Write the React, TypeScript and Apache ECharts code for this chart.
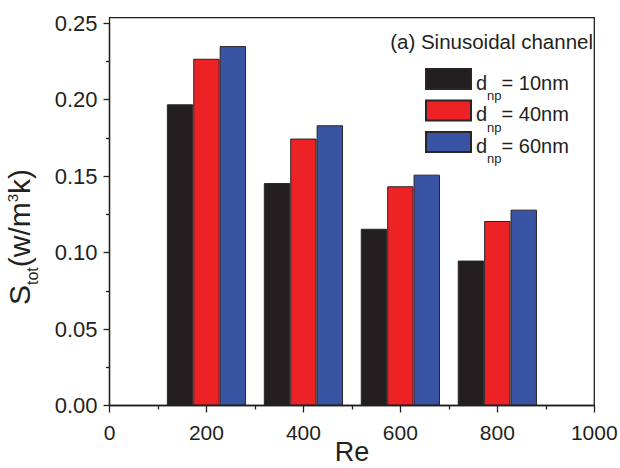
import React, { useEffect, useRef } from "react";
import * as echarts from "echarts";

const reValues = [200, 400, 600, 800];
const seriesNames = ["dnp= 10nm", "dnp= 40nm", "dnp= 60nm"];
const s10 = [0.197, 0.1455, 0.1156, 0.0948];
const s40 = [0.2268, 0.1746, 0.1434, 0.1207];
const s60 = [0.2351, 0.1833, 0.151, 0.1281];
const seriesColors = ["#231f20", "#ed2224", "#3a54a4"];
const xRange = [0, 1000, 200];
const yRange = [0, 0.25, 0.05];

const FONT = "'Liberation Sans', Arial, Helvetica, sans-serif";
const INK = "#231f20";

export default function App() {
  const ref = useRef<HTMLDivElement>(null);
  useEffect(() => {
    if (!ref.current) return;
    const chart = echarts.init(ref.current, undefined, { renderer: "svg" });
    const W = 620;
    const H = 468;
    const gL = 109.5, gR = 25.7, gT = 23.3, gB = 62.5;
    const frameTop = 17.7;
    const allData = [s10, s40, s60];
    chart.setOption({
      animation: false,
      backgroundColor: "#ffffff",
      textStyle: { fontFamily: FONT, color: INK },
      grid: {
        left: gL,
        right: gR,
        top: gT,
        bottom: gB,
        containLabel: false,
        outerBoundsMode: "none",
      },
      title: {
        text: "(a) Sinusoidal channel",
        right: 27,
        top: 31,
        padding: 0,
        textStyle: { fontFamily: FONT, fontSize: 20.5, fontWeight: "normal", color: INK },
      },
      legend: {
        orient: "vertical",
        left: 425,
        top: 56,
        padding: 0,
        itemWidth: 45,
        itemHeight: 20,
        itemGap: -14.5,
        icon: "rect",
        data: seriesNames,
        formatter: (name: string) => `{d|d}{sub|np}{t|${name.slice(3)}}`,
        textStyle: {
          fontFamily: FONT,
          color: INK,
          rich: {
            d: { fontSize: 20, lineHeight: 20, padding: [7, 0, 0, 0], verticalAlign: "middle", fontFamily: FONT, color: INK },
            t: { fontSize: 20, lineHeight: 20, padding: [7, 0, 0, 0], verticalAlign: "middle", fontFamily: FONT, color: INK },
            sub: { fontSize: 13, lineHeight: 13, padding: [33, 0, 0, 0], verticalAlign: "middle", fontFamily: FONT, color: INK },
          },
        },
      },
      xAxis: {
        type: "value",
        min: xRange[0],
        max: xRange[1],
        interval: xRange[2],
        name: "Re",
        nameLocation: "middle",
        nameGap: 33.1,
        nameMoveOverlap: false,
        nameTextStyle: { fontFamily: FONT, fontSize: 27, color: INK, lineHeight: 27 },
        axisLine: { show: true, lineStyle: { color: INK, width: 1.3 } },
        axisTick: { show: true, inside: false, length: 7, lineStyle: { color: INK, width: 1.3 } },
        minorTick: { show: true, splitNumber: 2, length: 4, lineStyle: { color: INK, width: 1.3 } },
        splitLine: { show: false },
        axisLabel: {
          fontFamily: FONT,
          fontSize: 21,
          color: INK,
          margin: 16,
          formatter: (v: number) => String(v),
        },
      },
      yAxis: {
        type: "value",
        min: yRange[0],
        max: yRange[1],
        interval: yRange[2],
        axisLine: { show: true, lineStyle: { color: INK, width: 1.3 } },
        axisTick: { show: true, inside: false, length: 6, lineStyle: { color: INK, width: 1.3 } },
        minorTick: { show: true, splitNumber: 2, length: 3.5, lineStyle: { color: INK, width: 1.3 } },
        splitLine: { show: false },
        axisLabel: {
          fontFamily: FONT,
          fontSize: 22,
          color: INK,
          margin: 12,
          formatter: (v: number) => v.toFixed(2),
        },
      },
      graphic: [
        {
          type: "rect",
          silent: true,
          z: 10,
          shape: { x: gL, y: frameTop, width: W - gL - gR, height: H - gB - frameTop },
          style: { fill: "none", stroke: INK, lineWidth: 1.3 },
        },
        {
          type: "text",
          x: 19.5,
          y: 237,
          rotation: Math.PI / 2,
          style: {
            text: "{m|S}{sub|tot}{m|(w/m}{sup|3}{m|k)}",
            align: "center",
            verticalAlign: "middle",
            fill: INK,
            font: `30px ${FONT}`,
            rich: {
              m: { fontSize: 30, lineHeight: 30, verticalAlign: "middle", fontFamily: FONT, fill: INK },
              sub: { fontSize: 16, lineHeight: 16, padding: [26.6, 0, 0, 0], verticalAlign: "middle", fontFamily: FONT, fill: INK },
              sup: { fontSize: 15, lineHeight: 15, padding: [0, 0, 13.8, 0], verticalAlign: "middle", fontFamily: FONT, fill: INK },
            },
          },
        },
      ],
      series: seriesNames.map((name, i) => ({
        name,
        type: "bar",
        barWidth: 26.4,
        barGap: "0%",
        data: reValues.map((x, j) => [x, allData[i][j]]),
        itemStyle: { color: seriesColors[i], borderColor: "#2a2425", borderWidth: 1 },
      })),
    });
    return () => chart.dispose();
  }, []);
  return (
    <div
      ref={ref}
      style={{ position: "fixed", left: 0, top: 0, width: 620, height: 468, background: "#fff" }}
    />
  );
}
